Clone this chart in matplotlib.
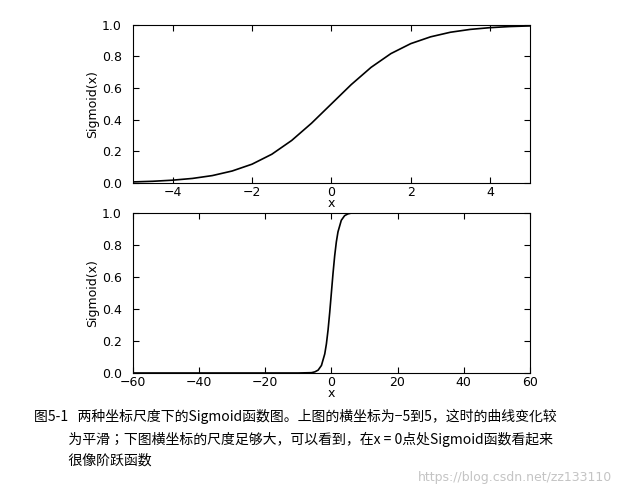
import matplotlib
matplotlib.use("Agg")
import matplotlib.pyplot as plt
from matplotlib import font_manager

top_x = [-5, -4.5, -4, -3.5, -3, -2.5, -2, -1.5, -1, -0.5, 0, 0.5, 1, 1.5, 2, 2.5, 3, 3.5, 4, 4.5, 5]
top_y = [0.007, 0.011, 0.018, 0.029, 0.047, 0.076, 0.119, 0.182, 0.269, 0.378, 0.5,
         0.622, 0.731, 0.818, 0.881, 0.924, 0.953, 0.971, 0.982, 0.989, 0.993]
bot_x = [-60, -10, -6, -5, -4, -3, -2, -1.5, -1, -0.5, 0, 0.5, 1, 1.5, 2, 3, 4, 5, 6, 10, 60]
bot_y = [0.0, 0.0, 0.002, 0.007, 0.018, 0.047, 0.119, 0.182, 0.269, 0.378, 0.5,
         0.622, 0.731, 0.818, 0.881, 0.953, 0.982, 0.993, 0.998, 1.0, 1.0]
top_xticks = [-4, -2, 0, 2, 4]
bot_xticks = [-60, -40, -20, 0, 20, 40, 60]
yticks = [0.0, 0.2, 0.4, 0.6, 0.8, 1.0]

caption = ("图5-1   两种坐标尺度下的Sigmoid函数图。上图的横坐标为−5到5，这时的曲线变化较\n"
           "           为平滑；下图横坐标的尺度足够大，可以看到，在x = 0点处Sigmoid函数看起来\n"
           "           很像阶跃函数")

cjk = None
fonts = sorted(font_manager.fontManager.ttflist, key=lambda f: f.fname)
for pref in ("Serif CJK SC", "Sans CJK SC", "CJK"):
    for f in fonts:
        if pref in f.name and f.weight in (400, "normal", "regular"):
            cjk = f.fname
            break
    if cjk:
        break
if cjk is None:
    for f in fonts:
        if "CJK" in f.name:
            cjk = f.fname
            break

fig = plt.figure(figsize=(6.27, 4.96), dpi=100)
ax1 = fig.add_axes([0.212, 0.631, 0.633, 0.319])
ax2 = fig.add_axes([0.212, 0.248, 0.633, 0.323])
for ax, x, y, xt, xl in [(ax1, top_x, top_y, top_xticks, (-5, 5)),
                         (ax2, bot_x, bot_y, bot_xticks, (-60, 60))]:
    ax.plot(x, y, color="black", lw=1.2)
    ax.set_xlim(*xl)
    ax.set_ylim(0, 1)
    ax.set_xticks(xt)
    ax.set_yticks(yticks)
    ax.set_xticklabels([f"{v:g}".replace("-", "−") for v in xt])
    ax.set_yticklabels([f"{v:.1f}" for v in yticks])
    ax.tick_params(labelsize=9, direction="in", length=4, top=True, right=True)
    ax.tick_params(axis="x", pad=2)
    ax.tick_params(axis="y", pad=8)
    ax.set_xlabel("x", fontsize=9, labelpad=-1)
    ax.set_ylabel("Sigmoid(x)", fontsize=9, labelpad=2)
props = dict(fontproperties=font_manager.FontProperties(fname=cjk, size=10)) if cjk else dict(fontsize=10)
fig.text(0.055, 0.175, caption, va="top", ha="left", linespacing=1.6, **props)
fig.text(0.977, 0.03, "https://blog.csdn.net/zz133110", fontsize=9, color="#c4c4c4", ha="right")
fig.savefig("out.png", dpi=100)
